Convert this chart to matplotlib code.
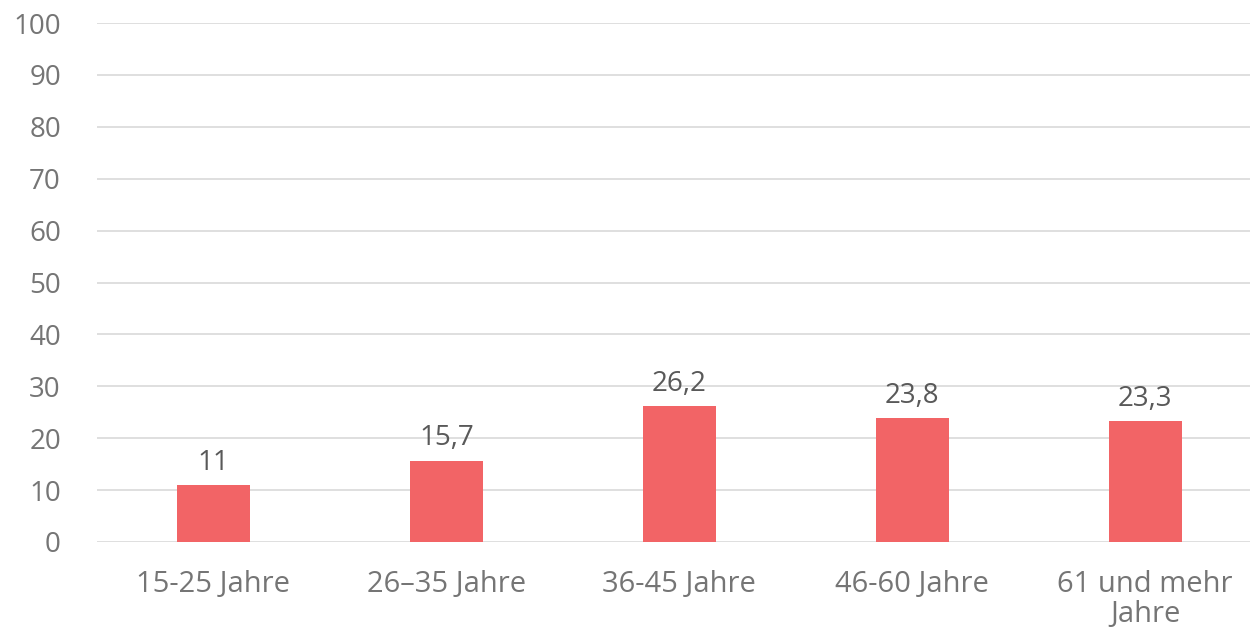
import matplotlib.pyplot as plt

categories = ["15-25 Jahre", "26\u201335 Jahre", "36-45 Jahre", "46-60 Jahre", "61 und mehr\nJahre"]
values = [11, 15.7, 26.2, 23.8, 23.3]
value_labels = ["11", "15,7", "26,2", "23,8", "23,3"]

plt.rcParams['font.family'] = ['Open Sans', 'DejaVu Sans']

fig = plt.figure(figsize=(12.5, 6.3), dpi=100)
ax = fig.add_axes([97 / 1250, (630 - 542) / 630, 1 - 97 / 1250, (542 - 23) / 630])

x = list(range(len(categories)))
bars = ax.bar(x, values, width=0.313, color="#F26466", zorder=3)

for xi, v, lab in zip(x, values, value_labels):
    ax.annotate(lab, (xi, v), xytext=(0, 6), textcoords="offset points",
                ha="center", va="bottom", fontsize=20, color="#595959")

ax.set_ylim(0, 100)
ax.set_xlim(-0.5, 4.45)
ax.set_yticks(range(0, 101, 10))
ax.set_xticks(x)
ax.set_xticklabels(categories, fontsize=21, color="#757575", linespacing=1.05)
ax.tick_params(axis="y", labelsize=20, labelcolor="#757575", length=0, pad=26)
ax.tick_params(axis="x", length=0, pad=20)
ax.grid(axis="y", color="#d9d9d9", linewidth=1.2, zorder=0)
for s in ax.spines.values():
    s.set_visible(False)

fig.savefig("out.png", dpi=100)
